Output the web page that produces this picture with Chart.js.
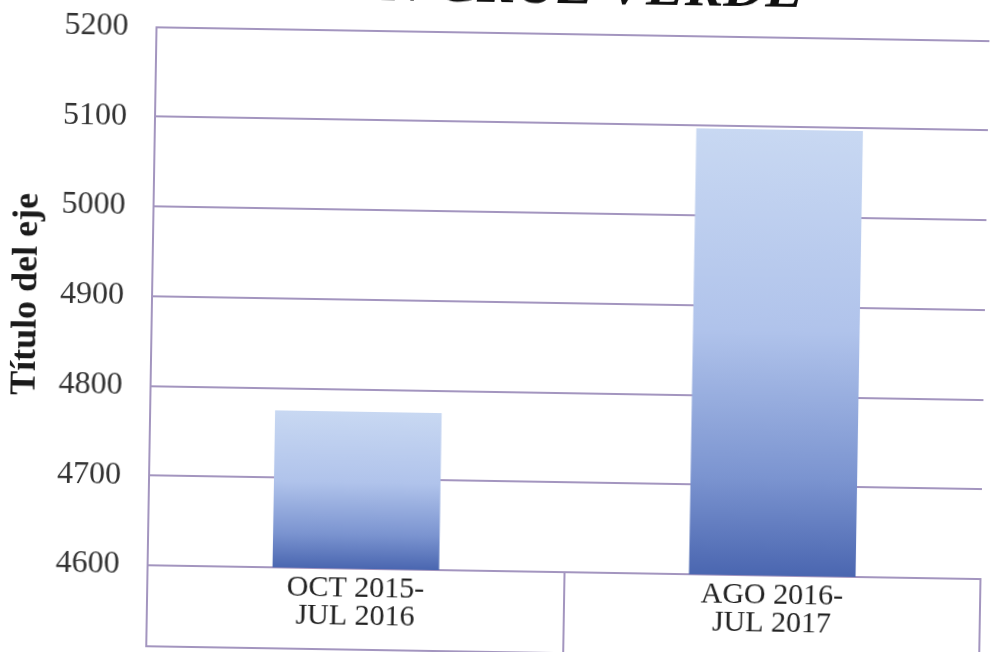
<!DOCTYPE html>
<html>
<head>
<meta charset="utf-8">
<script src="https://cdn.jsdelivr.net/npm/chart.js@4.4.1/dist/chart.umd.min.js"></script>
<style>
  html, body { margin: 0; padding: 0; background: #ffffff; overflow: hidden; width: 992px; height: 652px; }
  #wrap { position: absolute; left: 0; top: -48px; width: 992px; height: 705px; transform: rotate(0.95deg); transform-origin: 496px 350px; background: #ffffff; }
</style>
</head>
<body>
<div id="wrap"><canvas id="c" width="992" height="705"></canvas></div>
<script>
const chartTitle = "EN CRUZ VERDE";
const axisTitle = "Título del eje";
const categories = [["OCT 2015-", "JUL 2016"], ["AGO 2016-", "JUL 2017"]];
const values = [4775, 5097];
const yMin = 4600;
const yMax = 5200;
const yStep = 100;

const lineColor = '#a395bf';

function barGradient(ctx) {
  const chart = ctx.chart;
  const area = chart.chartArea;
  if (!area || ctx.type !== 'data') return '#8fa6da';
  const ys = chart.scales.y;
  const top = ys.getPixelForValue(ctx.raw);
  const bottom = ys.getPixelForValue(ys.min);
  const g = chart.ctx.createLinearGradient(0, top, 0, bottom);
  g.addColorStop(0, '#c8d8f2');
  g.addColorStop(0.45, '#b0c3eb');
  g.addColorStop(0.78, '#7b94d0');
  g.addColorStop(1, '#4a66b0');
  return g;
}

const bottomLine = {
  id: 'bottomLine',
  afterDraw(chart) {
    const xs = chart.scales.x;
    const c = chart.ctx;
    c.save();
    c.strokeStyle = lineColor;
    c.lineWidth = 2;
    c.beginPath();
    c.moveTo(xs.left, xs.bottom - 1);
    c.lineTo(xs.right, xs.bottom - 1);
    c.stroke();
    c.restore();
  }
};

new Chart(document.getElementById('c'), {
  type: 'bar',
  data: {
    labels: categories,
    datasets: [{
      data: values,
      backgroundColor: barGradient,
      borderWidth: 0,
      categoryPercentage: 1.0,
      barPercentage: 0.4
    }]
  },
  options: {
    responsive: false,
    animation: false,
    layout: { padding: { left: 0, right: 7, top: 0, bottom: 4 } },
    plugins: {
      legend: { display: false },
      tooltip: { enabled: false },
      title: {
        display: true,
        text: chartTitle,
        fullSize: false,
        color: '#111111',
        font: { family: 'Liberation Serif', size: 58, weight: 'bold', style: 'italic', lineHeight: 1.2 },
        padding: { top: 0, bottom: 11 }
      }
    },
    scales: {
      y: {
        min: yMin,
        max: yMax,
        ticks: {
          stepSize: yStep,
          color: '#333333',
          padding: 28,
          format: { useGrouping: false },
          font: { family: 'Liberation Serif', size: 32 }
        },
        grid: { color: lineColor, lineWidth: 2, drawTicks: false },
        border: { display: true, color: lineColor, width: 2 },
        title: {
          display: true,
          text: axisTitle,
          color: '#1a1a1a',
          font: { family: 'Liberation Serif', size: 36, weight: 'bold' },
          padding: { top: 5, bottom: 0 }
        },
        afterFit(scale) { scale.width = 152; }
      },
      x: {
        offset: true,
        ticks: {
          color: '#222222',
          padding: -76,
          maxRotation: 0,
          font: { family: 'Liberation Serif', size: 30, lineHeight: 0.93 }
        },
        grid: { display: true, drawOnChartArea: false, drawTicks: true, tickLength: 82, color: lineColor, lineWidth: 2, offset: true },
        border: { display: true, color: lineColor, width: 2 },
        afterFit(scale) { scale.height = 82; }
      }
    }
  },
  plugins: [bottomLine]
});
</script>
</body>
</html>
